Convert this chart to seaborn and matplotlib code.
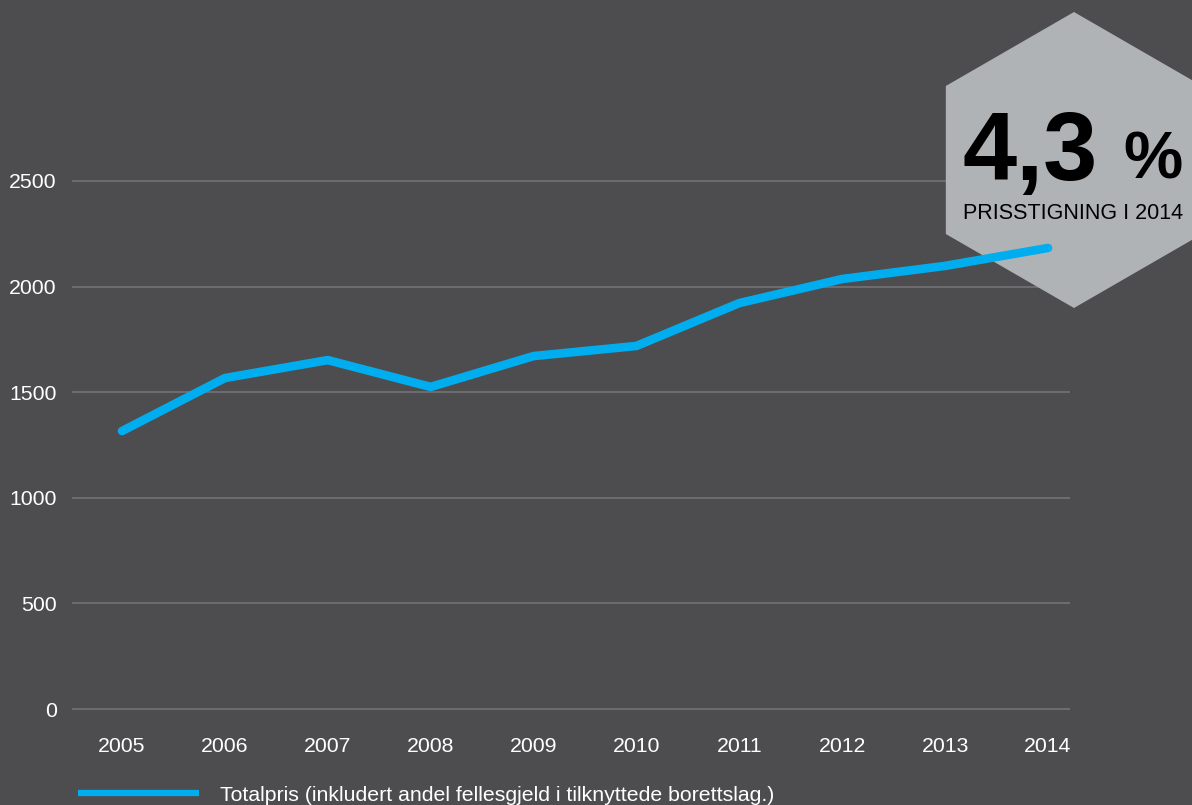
import matplotlib
matplotlib.use("Agg")
import matplotlib.pyplot as plt
from matplotlib.patches import Polygon
import seaborn as sns
import pandas as pd
import numpy as np

years = [2005, 2006, 2007, 2008, 2009, 2010, 2011, 2012, 2013, 2014]
totalpris = [1316, 1567, 1652, 1525, 1671, 1719, 1922, 2036, 2098, 2183]
y_ticks = [0, 500, 1000, 1500, 2000, 2500]
series_label = "Totalpris (inkludert andel fellesgjeld i tilknyttede borettslag.)"
badge_value = "4,3"
badge_unit = "%"
badge_text = "PRISSTIGNING I 2014"

BG = "#4d4d4f"
GRID = "#707072"
LINE = "#00aeef"
HEX = "#b0b3b6"

sns.set_style("dark", {"axes.facecolor": BG, "figure.facecolor": BG})
plt.rcParams["font.family"] = ["Liberation Sans", "DejaVu Sans"]

W, H = 1192, 805
fig = plt.figure(figsize=(W / 100, H / 100), dpi=100)
fig.patch.set_facecolor(BG)

ax_l, ax_r, ax_top, ax_bot = 72, 1070, 150, 730
ax = fig.add_axes([ax_l / W, 1 - ax_bot / H, (ax_r - ax_l) / W, (ax_bot - ax_top) / H])
ax.set_facecolor(BG)
ax.set_axisbelow(True)

# Hexagon badge (above grid, below line)
cx, cy, r = 1074, 160, 148
angles = np.deg2rad(np.arange(90, 450, 60))
hx = cx + r * np.cos(angles)
hy = cy - r * np.sin(angles)
verts = [((x) / W, 1 - y / H) for x, y in zip(hx, hy)]
hexagon = Polygon(verts, closed=True, transform=fig.transFigure,
                  facecolor=HEX, edgecolor="none", zorder=1.5, clip_on=False)
ax.add_patch(hexagon)

df = pd.DataFrame({"year": years, "value": totalpris})
sns.lineplot(data=df, x="year", y="value", ax=ax, color=LINE, linewidth=6.2,
             label=series_label, solid_capstyle="round", solid_joinstyle="round",
             zorder=5)

per_px = 500 / 105.6
ax.set_ylim(0 - (ax_bot - 709) * per_px, 2500 + (181 - ax_top) * per_px)
ax.set_xlim(2005 - (122 - 72) / 102.9, 2014 + (1070 - 1048) / 102.9)
ax.set_yticks(y_ticks)
ax.set_xticks(years)
ax.set_xticklabels([str(y) for y in years])
ax.grid(axis="y", color=GRID, linewidth=1.3, zorder=0.5)
ax.grid(axis="x", visible=False)
for s in ax.spines.values():
    s.set_visible(False)
ax.tick_params(axis="both", length=0, labelsize=15.3, labelcolor="white")
ax.tick_params(axis="x", pad=5)
ax.tick_params(axis="y", pad=11)
ax.set_xlabel("")
ax.set_ylabel("")

leg = ax.legend(loc="center left", bbox_to_anchor=(78 / W, 1 - 795 / H),
                bbox_transform=fig.transFigure, frameon=False, borderpad=0,
                borderaxespad=0, handlelength=5.7, handletextpad=1.0,
                fontsize=15.3, labelcolor="white")
for h in leg.get_lines():
    h.set_linewidth(4.5)
    h.set_solid_capstyle("butt")

# Badge texts
fig.text(1098 / W, 1 - 180 / H, badge_value, ha="right", va="baseline",
         fontsize=70, fontweight="bold", color="black", zorder=3)
fig.text(1183 / W, 1 - 178 / H, badge_unit, ha="right", va="baseline",
         fontsize=48, fontweight="bold", color="black", zorder=3)
fig.text(1073 / W, 1 - 219 / H, badge_text, ha="center", va="baseline",
         fontsize=15.5, color="black", zorder=3)

fig.savefig("out.png", dpi=100, facecolor=BG)
